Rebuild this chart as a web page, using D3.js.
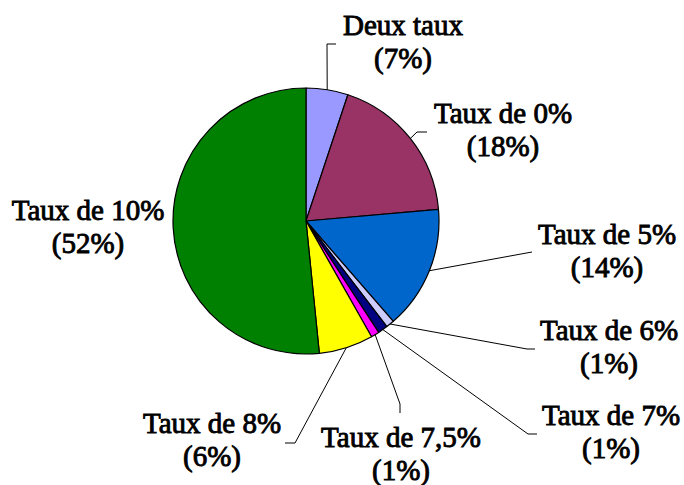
<!DOCTYPE html>
<html>
<head>
<meta charset="utf-8">
<script src="https://cdn.jsdelivr.net/npm/d3@7"></script>
<style>
  body { margin: 0; background: #fff; }
  svg { display: block; }
</style>
</head>
<body>
<div id="chart"></div>
<script>
// Categories, their share of the pie and the percentages printed on the labels
const categories = ["Deux taux", "Taux de 0%", "Taux de 5%", "Taux de 6%", "Taux de 7%", "Taux de 7,5%", "Taux de 8%", "Taux de 10%"];
const values = [5.1, 18.5, 15, 1, 1.2, 1, 6.6, 51.6];
const pctLabels = ["(7%)", "(18%)", "(14%)", "(1%)", "(1%)", "(1%)", "(6%)", "(52%)"];
const colors = ["#9999FF", "#993366", "#0066CC", "#CCCCFF", "#000080", "#FF00FF", "#FFFF00", "#008000"];

// Label layout: text centre, first baseline, and leader-line bend points
const labelLayout = [
    { x: 403, y: 35, leader: [[327, 44], [336, 44]] },
    { x: 503, y: 123, leader: [[417, 132], [427, 132]] },
    { x: 607, y: 244, leader: [[532, 252]] },
    { x: 609, y: 340, leader: [[527, 349], [535, 349]] },
    { x: 611, y: 425, leader: [[528, 434], [537, 434]] },
    { x: 401, y: 447, leader: [[400, 404], [400, 413]] },
    { x: 212, y: 433, leader: [[295, 443], [285, 443]] },
    { x: 88, y: 220, leader: null }
];

const width = 684;
const height = 485;
const cx = 306, cy = 221, radius = 133;
const lineGap = 33;

const svg = d3.select("#chart")
    .append("svg")
    .attr("width", width)
    .attr("height", height);

const g = svg.append("g")
    .attr("transform", `translate(${cx}, ${cy})`);

const pie = d3.pie()
    .sort(null)
    .value(d => d);

const arcs = pie(values);

const arc = d3.arc()
    .innerRadius(0)
    .outerRadius(radius);

// Draw the slices
g.selectAll("path.slice")
    .data(arcs)
    .join("path")
    .attr("class", "slice")
    .attr("d", arc)
    .attr("fill", (d, i) => colors[i])
    .attr("stroke", "#000")
    .attr("stroke-width", 1.2)
    .attr("stroke-linejoin", "round");

// Leader lines from the slice's outer edge to its label
arcs.forEach((d, i) => {
    const lay = labelLayout[i];
    if (!lay.leader) return;
    const mid = (d.startAngle + d.endAngle) / 2;
    const start = [cx + radius * Math.sin(mid), cy - radius * Math.cos(mid)];
    const pts = [start].concat(lay.leader);
    svg.append("path")
        .attr("d", d3.line()(pts))
        .attr("fill", "none")
        .attr("stroke", "#000")
        .attr("stroke-width", 1);
});

// Labels, two lines each (regular serif, thickened a little with a stroke)
categories.forEach((name, i) => {
    const lay = labelLayout[i];
    const t = svg.append("text")
        .style("font-family", "Liberation Serif")
        .style("font-size", "29px")
        .attr("fill", "#000")
        .attr("stroke", "#000")
        .attr("stroke-width", 0.9)
        .attr("text-anchor", "middle");
    t.append("tspan")
        .attr("x", lay.x)
        .attr("y", lay.y)
        .text(name);
    t.append("tspan")
        .attr("x", lay.x)
        .attr("y", lay.y + lineGap)
        .text(pctLabels[i]);
});
</script>
</body>
</html>
